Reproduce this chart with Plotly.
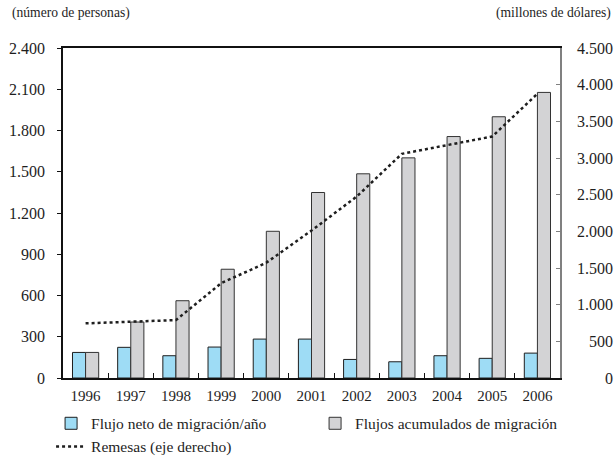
import plotly.graph_objects as go

# Years on the category axis
years = ["1996", "1997", "1998", "1999", "2000", "2001",
         "2002", "2003", "2004", "2005", "2006"]

# Net migration flow per year (persons, left axis)
flujo_neto = [186, 223, 162, 225, 283, 283, 135, 118, 162, 143, 181]

# Accumulated migration flows (persons, left axis)
flujo_acumulado = [186, 407, 562, 791, 1067, 1349, 1485, 1601, 1756, 1900, 2077]

# Remittances (millions of dollars, right axis)
remesas = [745, 763, 790, 1292, 1573, 2010, 2474, 3057, 3180, 3293, 3876]

# Axis ticks
left_ticks = [0, 300, 600, 900, 1200, 1500, 1800, 2100, 2400]
right_ticks = [0, 500, 1000, 1500, 2000, 2500, 3000, 3500, 4000, 4500]

FONT = "Times New Roman"
TEXT = "#1e1e1e"


def right_label(v):
    # thousands separated by "." and padded so labels line up on the right
    s = f"{v:,}".replace(",", ".")
    digits = sum(c.isdigit() for c in s)
    pad = "\u2007" * (4 - digits)
    if "." not in s:
        pad += "\u2008"
    return pad + s


fig = go.Figure()

fig.add_trace(go.Bar(
    x=years, y=flujo_neto, name="Flujo neto de migración/año",
    marker=dict(color="#9edcf5", line=dict(color="#1e1e1e", width=1)),
))
fig.add_trace(go.Bar(
    x=years, y=flujo_acumulado, name="Flujos acumulados de migración",
    marker=dict(color="#d3d3d5", line=dict(color="#333333", width=1)),
))
fig.add_trace(go.Scatter(
    x=years, y=remesas, name="Remesas (eje derecho)", yaxis="y2",
    mode="lines", line=dict(color="#1e1e1e", width=2.5, dash="dot"),
))

fig.update_layout(
    width=614, height=457,
    margin=dict(l=63, r=54, t=48, b=79, autoexpand=False),
    paper_bgcolor="white", plot_bgcolor="white",
    font=dict(family=FONT, size=16, color=TEXT),
    separators=",.",
    barmode="group", bargap=0.42, bargroupgap=0,
    showlegend=True,
    legend=dict(
        orientation="h", x=-0.024, xanchor="left", y=-0.087, yanchor="top",
        entrywidth=219, entrywidthmode="pixels",
        font=dict(family=FONT, size=15.5, color=TEXT),
        bgcolor="rgba(0,0,0,0)", itemclick=False, tracegroupgap=0,
    ),
    xaxis=dict(
        type="category", showgrid=False, showline=True, linecolor="#111111",
        linewidth=2, mirror=True, ticks="inside", tickson="boundaries",
        ticklen=5, tickcolor="#111111", ticklabelstandoff=3,
        tickfont=dict(family=FONT, size=15, color=TEXT),
    ),
    yaxis=dict(
        range=[0, 2400], tickvals=left_ticks, separatethousands=True,
        showgrid=False, zeroline=False, showline=True, linecolor="#111111",
        linewidth=1.5, ticks="outside", ticklen=4, tickcolor="#111111",
        ticklabelstandoff=9,
        tickfont=dict(family=FONT, size=16, color=TEXT),
    ),
    yaxis2=dict(
        overlaying="y", side="right", range=[0, 4500],
        tickvals=right_ticks, ticktext=[right_label(v) for v in right_ticks],
        showgrid=False, zeroline=False, showline=True, linecolor="#808080",
        linewidth=1.5, ticks="inside", ticklen=4, tickcolor="#808080",
        ticklabelstandoff=12,
        tickfont=dict(family=FONT, size=16, color=TEXT),
    ),
    annotations=[
        dict(text="(número de personas)", xref="paper", yref="paper",
             x=-0.107, y=1.106, xanchor="left", yanchor="middle",
             showarrow=False, font=dict(family=FONT, size=13.6, color=TEXT)),
        dict(text="(millones de dólares)", xref="paper", yref="paper",
             x=1.106, y=1.106, xanchor="right", yanchor="middle",
             showarrow=False, font=dict(family=FONT, size=13.6, color=TEXT)),
    ],
)

fig.write_html("out.html")
